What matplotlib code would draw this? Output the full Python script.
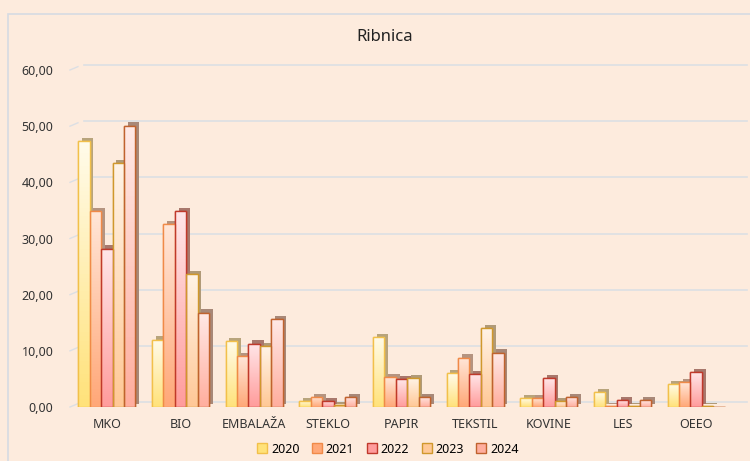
import numpy as np
import matplotlib
matplotlib.use("Agg")
import matplotlib.pyplot as plt
import matplotlib.patheffects as pe
from matplotlib.colors import LinearSegmentedColormap
from matplotlib.patches import Rectangle
from matplotlib.transforms import ScaledTranslation

categories = ["MKO", "BIO", "EMBALAŽA", "STEKLO", "PAPIR", "TEKSTIL", "KOVINE", "LES", "OEEO"]
years = ["2020", "2021", "2022", "2023", "2024"]

v2020 = [47.3, 12.0, 11.8, 1.1, 12.5, 6.0, 1.6, 2.6, 4.1]
v2021 = [34.9, 32.6, 9.0, 1.8, 5.3, 8.8, 1.6, 0.2, 4.4]
v2022 = [28.2, 34.9, 11.3, 1.1, 4.9, 5.8, 5.1, 1.2, 6.2]
v2023 = [43.4, 23.6, 10.8, 0.4, 5.1, 14.0, 1.1, 0.1, 0.1]
v2024 = [50.1, 16.8, 15.7, 1.8, 1.8, 9.7, 1.8, 1.2, 0.05]
series = [v2020, v2021, v2022, v2023, v2024]

# (top colour, bottom colour, edge, side)
styles = [
    ("#fffbea", "#ffe27a", "#f2c04a", "#b8a47c"),
    ("#ffe6d8", "#ffa878", "#f08a48", "#b59480"),
    ("#ffe6e8", "#ff9c9c", "#c0392b", "#a8786c"),
    ("#fff3e6", "#ffc896", "#d0982c", "#b09a78"),
    ("#ffe9e6", "#ffae9e", "#c0622e", "#a88878"),
]

bg = "#fdebdd"
plt.rcParams["font.family"] = ["Noto Sans", "DejaVu Sans"]

fig = plt.figure(figsize=(7.5, 4.61), dpi=100, facecolor=bg)
fig.patches.append(Rectangle((8 / 750, -0.05), 1.0, 1 - 14 / 461 + 0.05,
                             transform=fig.transFigure, fill=False,
                             edgecolor="#d6dbe2", linewidth=1.2))
ax = fig.add_axes([70 / 750, 1 - 407 / 461, 663 / 750, 337 / 461])
ax.set_facecolor("none")

x = np.arange(len(categories))
w = 0.155

# gridlines on the back wall
off = ScaledTranslation(4 / 72, 3.5 / 72, fig.dpi_scale_trans)
for t in range(0, 61, 10):
    ax.plot([0.012, 1.012], [t, t], transform=ax.get_yaxis_transform() + off,
            color="#dcdfe4", lw=1.2, zorder=0, clip_on=False)
    ax.plot([0, 0.012], [t, t + 0.6], transform=ax.get_yaxis_transform(),
            color="#dcdfe4", lw=1.0, zorder=0, clip_on=False)

for i, (vals, st) in enumerate(zip(series, styles)):
    top, bot, edge, side = st
    pos = x + (i - 2) * w
    bars = ax.bar(pos, vals, w, color=bot, edgecolor=edge, linewidth=1.0, zorder=2,
                  label=years[i],
                  path_effects=[pe.SimplePatchShadow(offset=(2.7, 2.3), shadow_rgbFace=side,
                                                     alpha=1.0), pe.Normal()])
    cmap = LinearSegmentedColormap.from_list("g%d" % i, [bot, top])
    grad = np.linspace(0, 1, 64).reshape(-1, 1)
    for b in bars:
        bx, by = b.get_x(), b.get_y()
        bw, bh = b.get_width(), b.get_height()
        im = ax.imshow(grad, cmap=cmap, origin="lower", aspect="auto",
                       extent=[bx, bx + bw, by, by + bh], zorder=2.1)
        im.set_clip_path(b)
    ax.bar(pos, vals, w, fill=False, edgecolor=edge, linewidth=1.0, zorder=3)

ax.set_xlim(-0.5, len(categories) - 0.5)
ax.set_ylim(0, 60)
ax.set_yticks(range(0, 61, 10))
ax.yaxis.set_major_formatter(plt.FuncFormatter(lambda v, p: f"{v:.2f}".replace(".", ",")))
ax.set_xticks(x)
ax.set_xticklabels(categories)
ax.tick_params(length=0, labelsize=9, colors="#333333")
ax.tick_params(axis="y", pad=12)
ax.tick_params(axis="x", pad=8)
for s in ax.spines.values():
    s.set_visible(False)

fig.text(385 / 750, 1 - 37 / 461, "Ribnica", ha="center", va="center",
         fontsize=12, color="#222222")

handles, labels = ax.get_legend_handles_labels()
leg = fig.legend(handles, labels, loc="center", bbox_to_anchor=(388 / 750, 1 - 449 / 461),
                 ncol=5, frameon=False, fontsize=9, handlelength=0.8, handleheight=0.8,
                 handletextpad=0.3, columnspacing=1.0)
for h in leg.legend_handles:
    h.set_path_effects([])

fig.savefig("out.png", dpi=100, facecolor=bg)
